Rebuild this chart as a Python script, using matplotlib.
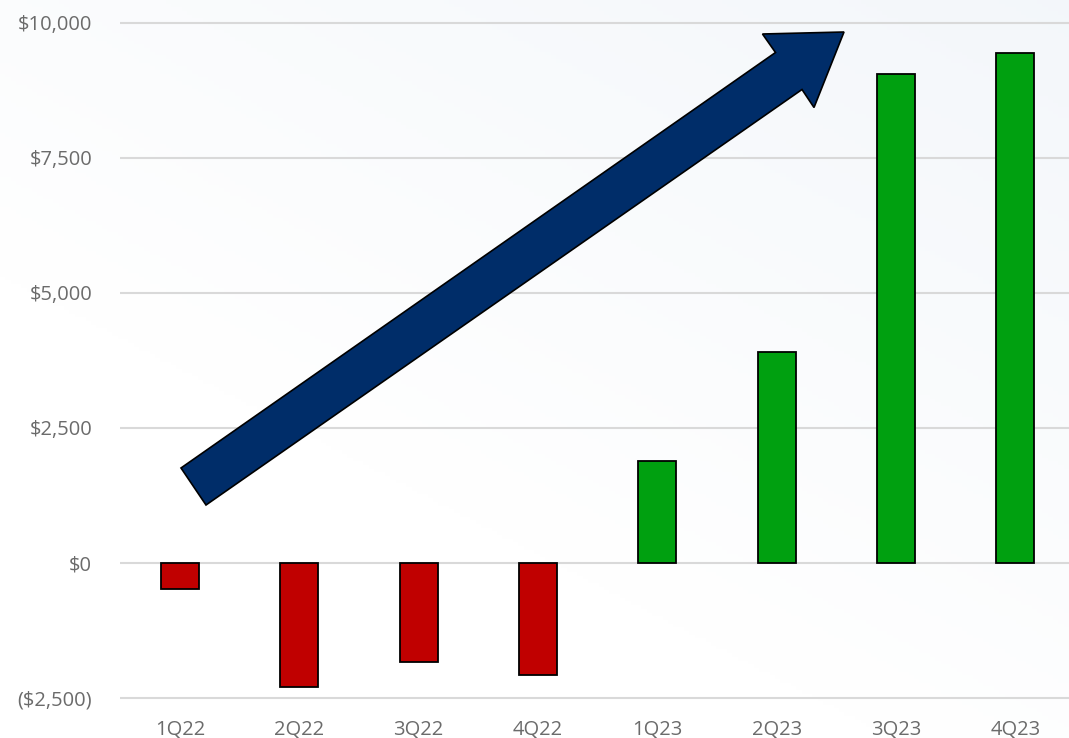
import numpy as np
import matplotlib.pyplot as plt
from matplotlib.patches import Polygon
from matplotlib.transforms import Affine2D
from matplotlib.ticker import FuncFormatter

quarters = ["1Q22", "2Q22", "3Q22", "4Q22", "1Q23", "2Q23", "3Q23", "4Q23"]
values = [-490, -2305, -1840, -2080, 1885, 3905, 9055, 9445]

W, H = 1069, 738
fig = plt.figure(figsize=(W / 100, H / 100), dpi=100)

# soft gradient in the background (white bottom-left, pale blue top-right)
bg = fig.add_axes([0, 0, 1, 1], zorder=-10)
gx, gy = np.meshgrid(np.linspace(0, 1, 200), np.linspace(0, 1, 200))
g = np.clip((gx * 0.6 + gy * 0.8) - 0.5, 0, 1) / 0.9
top = np.array([0.955, 0.968, 0.982])
img = 1 - g[..., None] * (1 - top)
bg.imshow(img, origin="lower", extent=[0, 1, 0, 1], aspect="auto")
bg.axis("off")

ax = fig.add_axes([120 / W, 1 - 710 / H, 1 - 120 / W, 700 / H])
ax.patch.set_alpha(0)

x = np.arange(len(quarters))
colors = ["#C00000" if v < 0 else "#00A010" for v in values]
ax.bar(x, values, width=0.32, color=colors, edgecolor="black", linewidth=1.3, zorder=3)

ax.set_xlim(-0.503, 7.45)
ax.set_ylim(-2730, 10235)
ax.set_yticks([-2500, 0, 2500, 5000, 7500, 10000])
ax.yaxis.set_major_formatter(FuncFormatter(
    lambda v, p: f"(${abs(v):,.0f})" if v < 0 else f"${v:,.0f}"))
ax.set_xticks(x)
ax.set_xticklabels(quarters)
ax.grid(axis="y", color="#d9d9d9", linewidth=1.5, zorder=0)
for s in ax.spines.values():
    s.set_visible(False)
ax.tick_params(axis="both", length=0, labelsize=14.5, labelcolor="#6b6b6b")
ax.tick_params(axis="y", pad=20)
ax.tick_params(axis="x", pad=7)
for lab in ax.get_xticklabels() + ax.get_yticklabels():
    lab.set_family(["Open Sans", "DejaVu Sans"])

# big trend arrow, drawn in image pixel coordinates
pix = Affine2D().scale(1 / W, -1 / H).translate(0, 1) + fig.transFigure
arrow_pts = [(181, 468), (775.5, 52.5), (762.5, 34), (844, 32),
             (814, 107.5), (802, 89.5), (206, 505)]
fig.patches.append(Polygon(arrow_pts, closed=True, facecolor="#002D69",
                           edgecolor="black", linewidth=1.2, transform=pix,
                           zorder=5))

fig.savefig("out.png", dpi=100)
